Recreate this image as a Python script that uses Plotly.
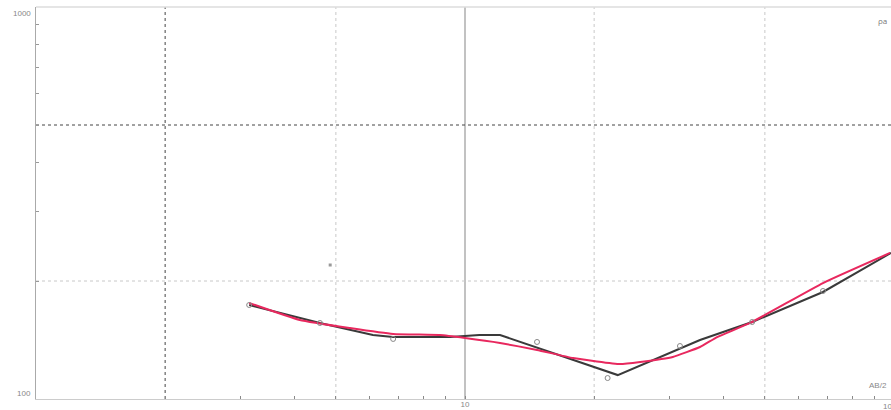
import plotly.graph_objects as go

# Field (observed) curve - black line vertices
field_x = [3.14, 4.59, 6.10, 6.80, 9.23, 10.8, 12.07, 22.7, 35.3, 46.7, 68.3, 98.4]
field_y = [173.7, 156.3, 145.6, 143.9, 143.9, 145.6, 145.6, 115.1, 141.4, 157.2, 187.5, 235.8]

# Model (theoretical) curve - red line
model_x = [3.14, 4.12, 5.39, 6.80, 8.74, 10.0, 12.07, 14.72, 17.86, 22.98, 25.6, 30.5, 35.3, 38.7, 46.2, 68.3, 97.9]
model_y = [175.8, 159.1, 151.7, 146.5, 145.6, 143.1, 139.0, 133.4, 127.2, 122.8, 124.3, 128.0, 135.7, 143.9, 156.3, 197.6, 235.8]

# Measured points (markers)
pts_x = [3.14, 4.59, 6.80, 14.72, 21.5, 31.7, 46.7, 68.3]
pts_y = [173.7, 156.3, 142.3, 139.8, 113.1, 136.5, 157.2, 188.6]

# Stray point
stray_x = [4.85]
stray_y = [219.7]

x_tickvals = [1, 2, 3, 4, 5, 6, 7, 8, 9, 10, 20, 30, 40, 50, 60, 70, 80, 90, 100]
x_ticktext = ["" if v != 10 else str(v) for v in x_tickvals]
y_tickvals = [100, 200, 300, 400, 500, 600, 700, 800, 900, 1000]

x_grid_dark = [2]
x_grid_light = [5, 20, 50]
x_grid_solid = [10]
y_grid_dark = [500]
y_grid_light = [200]

fig = go.Figure()

fig.add_trace(go.Scatter(x=field_x, y=field_y, mode="lines",
                         line=dict(color="#3a3a3a", width=2), showlegend=False))
fig.add_trace(go.Scatter(x=model_x, y=model_y, mode="lines",
                         line=dict(color="#e8285e", width=2, shape="spline", smoothing=0.4),
                         showlegend=False))
fig.add_trace(go.Scatter(x=pts_x, y=pts_y, mode="markers",
                         marker=dict(symbol="circle-open", size=5, color="#888888", line=dict(width=1)),
                         showlegend=False))
fig.add_trace(go.Scatter(x=stray_x, y=stray_y, mode="markers",
                         marker=dict(symbol="square", size=3, color="#999999"),
                         showlegend=False))

shapes = []
for v in x_grid_dark:
    shapes.append(dict(type="line", xref="x", yref="paper", x0=v, x1=v, y0=0, y1=1,
                       line=dict(color="#444444", width=1, dash="dot"), layer="below"))
for v in x_grid_light:
    shapes.append(dict(type="line", xref="x", yref="paper", x0=v, x1=v, y0=0, y1=1,
                       line=dict(color="#c8c8c8", width=1, dash="dot"), layer="below"))
for v in x_grid_solid:
    shapes.append(dict(type="line", xref="x", yref="paper", x0=v, x1=v, y0=0, y1=1,
                       line=dict(color="#999999", width=1.2), layer="below"))
for v in y_grid_dark:
    shapes.append(dict(type="line", xref="paper", yref="y", x0=0, x1=1, y0=v, y1=v,
                       line=dict(color="#444444", width=1, dash="dot"), layer="below"))
for v in y_grid_light:
    shapes.append(dict(type="line", xref="paper", yref="y", x0=0, x1=1, y0=v, y1=v,
                       line=dict(color="#c8c8c8", width=1, dash="dot"), layer="below"))
shapes.append(dict(type="line", xref="paper", yref="paper", x0=0, x1=1, y0=1, y1=1,
                   line=dict(color="#dddddd", width=1.5)))

label_font = dict(size=8, color="#888888", family="Arial")

fig.update_layout(
    width=891, height=410,
    margin=dict(l=36, r=0, t=7, b=11),
    paper_bgcolor="white", plot_bgcolor="white",
    shapes=shapes,
    xaxis=dict(type="log", range=[0, 1.993], showgrid=False, zeroline=False, automargin=False,
               tickvals=x_tickvals, ticktext=x_ticktext, ticks="inside", ticklen=3,
               tickcolor="#888888", tickfont=label_font,
               ticklabelstandoff=-3,
               showline=True, linecolor="#cccccc", linewidth=1, mirror=False),
    yaxis=dict(type="log", range=[2, 3], showgrid=False, zeroline=False, automargin=False,
               tickvals=y_tickvals, showticklabels=False, ticks="inside", ticklen=3,
               tickcolor="#999999",
               showline=True, linecolor="#aaaaaa", linewidth=1.2, mirror=False),
    annotations=[
        dict(text="1000", xref="paper", yref="paper", x=0, y=1, xanchor="right", yanchor="middle",
             xshift=-3, yshift=-6, showarrow=False, font=label_font),
        dict(text="100", xref="paper", yref="paper", x=0, y=0, xanchor="right", yanchor="middle",
             xshift=-3, yshift=6, showarrow=False, font=label_font),
        dict(text="100", xref="paper", yref="paper", x=0.988, y=0, xanchor="left", yanchor="top",
             yshift=-1, showarrow=False, font=label_font),
        dict(text="ρa", xref="paper", yref="paper", x=0.983, y=0.965, xanchor="left",
             yanchor="middle", showarrow=False, font=dict(size=8, color="#777777")),
        dict(text="AB/2", xref="paper", yref="paper", x=0.972, y=0.035, xanchor="left",
             yanchor="middle", showarrow=False, font=label_font),
    ],
)

fig.write_html("out.html", config={"displayModeBar": False},
               post_script="document.body.style.margin='0';document.body.style.overflow='hidden';")
